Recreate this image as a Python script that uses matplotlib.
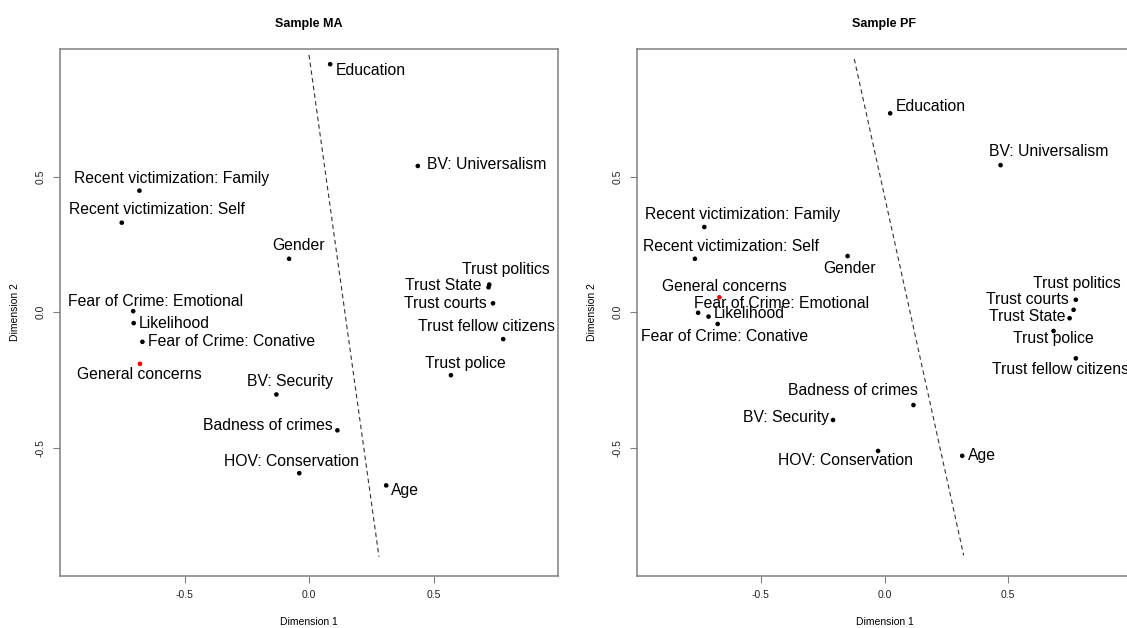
import matplotlib
matplotlib.use("Agg")
import matplotlib.pyplot as plt

plt.rcParams["font.family"] = ["Liberation Sans", "DejaVu Sans"]

ma_names = ["Education", "BV: Universalism", "Recent victimization: Family",
            "Recent victimization: Self", "Gender", "Trust politics", "Trust State",
            "Trust courts", "Fear of Crime: Emotional", "Likelihood",
            "Fear of Crime: Conative", "General concerns", "Trust fellow citizens",
            "Trust police", "BV: Security", "Badness of crimes", "HOV: Conservation", "Age"]
ma_x = [0.085, 0.437, -0.681, -0.752, -0.080, 0.724, 0.721, 0.739, -0.706, -0.704,
        -0.669, -0.679, 0.780, 0.570, -0.131, 0.114, -0.039, 0.310]
ma_y = [0.914, 0.539, 0.448, 0.330, 0.197, 0.102, 0.092, 0.033, 0.004, -0.040,
        -0.109, -0.190, -0.099, -0.232, -0.303, -0.435, -0.593, -0.638]
ma_split_x = [0.0, 0.281]
ma_split_y = [0.948, -0.901]

pf_names = ["Education", "BV: Universalism", "Recent victimization: Family",
            "Recent victimization: Self", "Gender", "General concerns",
            "Fear of Crime: Emotional", "Likelihood", "Fear of Crime: Conative",
            "Trust politics", "Trust courts", "Trust State", "Trust police",
            "Trust fellow citizens", "Badness of crimes", "BV: Security",
            "HOV: Conservation", "Age"]
pf_x = [0.023, 0.469, -0.728, -0.766, -0.149, -0.667, -0.753, -0.711, -0.674,
        0.773, 0.764, 0.748, 0.683, 0.773, 0.117, -0.208, -0.026, 0.314]
pf_y = [0.733, 0.542, 0.314, 0.197, 0.207, 0.055, -0.002, -0.016, -0.043,
        0.046, 0.009, -0.022, -0.069, -0.170, -0.342, -0.397, -0.511, -0.529]
pf_split_x = [-0.122, 0.320]
pf_split_y = [0.933, -0.896]

highlight = "General concerns"

# label placement: (dx px, dy px, horizontal alignment)
ma_offsets = [(6, -6, "left"), (9, 1, "left"), (32, 12, "center"), (35, 13, "center"),
              (9, 13, "center"), (17, 15, "center"), (-7, 2, "right"), (-6, 0, "right"),
              (-65, 10, "left"), (5, 0, "left"), (6, 0, "left"), (-1, -11, "center"),
              (-17, 13, "center"), (14, 12, "center"), (14, 13, "center"),
              (-5, 5, "right"), (-8, 12, "center"), (5, -5, "left")]
pf_offsets = [(6, 7, "left"), (48, 14, "center"), (38, 13, "center"), (36, 12, "center"),
              (2, -12, "center"), (5, 11, "center"), (-4, 9, "left"), (5, 3, "left"),
              (7, -13, "center"), (1, 16, "center"), (-5, 10, "right"), (-4, 2, "right"),
              (0, -8, "center"), (-84, -11, "left"), (4, 15, "right"), (-4, 2, "right"),
              (-33, -10, "center"), (6, 0, "left")]


def draw_panel(ax, title, names, xs, ys, offsets, split_x, split_y):
    colors = ["red" if n == highlight else "black" for n in names]
    ax.scatter(xs, ys, s=11, c=colors, linewidths=0, zorder=3)
    for name, x, y, (dx, dy, ha) in zip(names, xs, ys, offsets):
        ax.annotate(name, (x, y), xytext=(dx, dy), textcoords="offset pixels",
                    ha=ha, va="center", fontsize=11.3, color="black",
                    annotation_clip=False)
    ax.plot(split_x, split_y, color="#333333", linestyle=(0, (4, 3)), linewidth=0.8)
    ax.set_xlim(-1.0, 1.0)
    ax.set_ylim(-0.97, 0.97)
    ax.set_xticks([-0.5, 0.0, 0.5])
    ax.set_xticklabels(["-0.5", "0.0", "0.5"])
    ax.set_yticks([-0.5, 0.0, 0.5])
    ax.set_yticklabels(["-0.5", "0.0", "0.5"], rotation=90, va="center")
    ax.tick_params(direction="out", length=5, width=0.8, color="#808080",
                   labelsize=7.5, labelcolor="#222222", pad=5.5)
    for sp in ax.spines.values():
        sp.set_color("#808080")
        sp.set_linewidth(1.1)
    ax.set_xlabel("Dimension 1", fontsize=7.5, labelpad=12)
    ax.set_ylabel("Dimension 2", fontsize=7.5, labelpad=11)
    ax.set_title(title, fontsize=9, fontweight="bold", pad=16)


fig = plt.figure(figsize=(11.27, 6.28), dpi=100)
ax_ma = fig.add_axes([60 / 1127, 52.5 / 628, 498 / 1127, 526.5 / 628])
ax_pf = fig.add_axes([637 / 1127, 52.5 / 628, 495 / 1127, 526.5 / 628])

draw_panel(ax_ma, "Sample MA", ma_names, ma_x, ma_y, ma_offsets, ma_split_x, ma_split_y)
draw_panel(ax_pf, "Sample PF", pf_names, pf_x, pf_y, pf_offsets, pf_split_x, pf_split_y)

fig.savefig("out.png", dpi=100)
